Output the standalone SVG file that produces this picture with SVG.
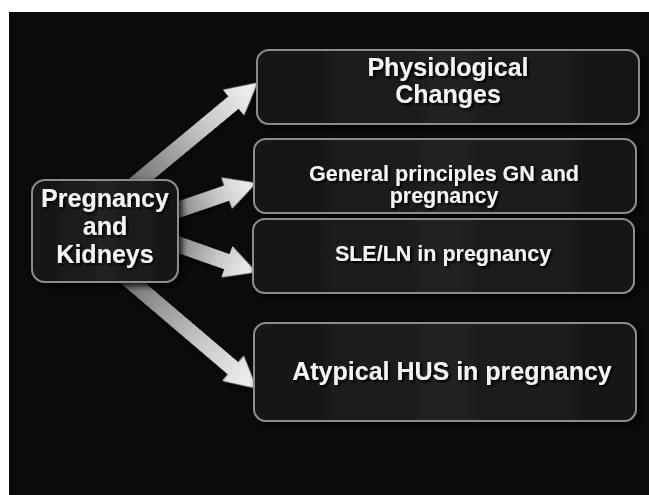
<svg xmlns="http://www.w3.org/2000/svg" width="649" height="495" viewBox="0 0 649 495">
  <defs>
    <linearGradient id="arrowGrad" x1="0" y1="0" x2="1" y2="0">
      <stop offset="0" stop-color="#6a6a6a"/>
      <stop offset="0.6" stop-color="#c8c8c8"/>
      <stop offset="1" stop-color="#f4f4f4"/>
    </linearGradient>
    <linearGradient id="boxGrad" x1="0" y1="0" x2="1" y2="0">
      <stop offset="0" stop-color="#151515"/>
      <stop offset="0.5" stop-color="#212121"/>
      <stop offset="1" stop-color="#161616"/>
    </linearGradient>
    <filter id="boxShadow" x="-10%" y="-10%" width="130%" height="140%">
      <feDropShadow dx="3" dy="3" stdDeviation="3" flood-color="#000" flood-opacity="0.9"/>
    </filter>
    <filter id="textShadow" x="-10%" y="-20%" width="130%" height="160%">
      <feDropShadow dx="2" dy="2" stdDeviation="1" flood-color="#000" flood-opacity="1"/>
    </filter>
    <filter id="arrowShadow" x="-10%" y="-30%" width="130%" height="160%">
      <feDropShadow dx="2" dy="2" stdDeviation="2" flood-color="#000" flood-opacity="0.8"/>
    </filter>
  </defs>
  <style>
    .box { fill: url(#boxGrad); stroke: #8c8c8c; stroke-width: 2; filter: url(#boxShadow); }
    .arrow { fill: url(#arrowGrad); filter: url(#arrowShadow); }
    .label { font-family: "Liberation Sans", Arial, sans-serif; font-weight: bold; fill: #f4f4f4; text-anchor: middle; filter: url(#textShadow); }
  </style>

  <rect x="0" y="0" width="649" height="495" fill="#ffffff"/>
  <rect x="9" y="12" width="640" height="483" fill="#0b0b0b"/>

  <g id="connectors">
    <g transform="translate(128,190) rotate(-39.67)">
      <polygon class="arrow" points="0,-8 137,-8 137,-16.5 168,0 137,16.5 137,8 0,8"/>
    </g>
    <g transform="translate(160,216) rotate(-18.97)">
      <polygon class="arrow" points="0,-8 70.5,-8 70.5,-16.5 101.5,0 70.5,16.5 70.5,8 0,8"/>
    </g>
    <g transform="translate(160,238) rotate(19.5)">
      <polygon class="arrow" points="0,-8 71,-8 71,-16.5 102,0 71,16.5 71,8 0,8"/>
    </g>
    <g transform="translate(120,272) rotate(40.4)">
      <polygon class="arrow" points="0,-8 148.5,-8 148.5,-16.5 179.5,0 148.5,16.5 148.5,8 0,8"/>
    </g>
  </g>

  <g id="node-main">
    <rect class="box" x="32" y="180" width="146" height="102" rx="13"/>
    <text class="label" font-size="25"><tspan x="105" y="207">Pregnancy</tspan><tspan x="105" y="235">and</tspan><tspan x="105" y="263">Kidneys</tspan></text>
  </g>

  <g id="node-physiological">
    <rect class="box" x="257" y="50" width="382" height="74" rx="12"/>
    <text class="label" font-size="25"><tspan x="448" y="76">Physiological</tspan><tspan x="448" y="103">Changes</tspan></text>
  </g>

  <g id="node-general">
    <rect class="box" x="254" y="139" width="382" height="74" rx="12"/>
    <text class="label" font-size="21.5"><tspan x="444" y="180.5">General principles GN and</tspan><tspan x="444" y="203">pregnancy</tspan></text>
  </g>

  <g id="node-sle">
    <rect class="box" x="253" y="219" width="381" height="74" rx="12"/>
    <text class="label" font-size="21.5" x="443" y="261">SLE/LN in pregnancy</text>
  </g>

  <g id="node-ahus">
    <rect class="box" x="254" y="323" width="382" height="98" rx="12"/>
    <text class="label" font-size="25" x="452" y="380">Atypical HUS in pregnancy</text>
  </g>
</svg>
